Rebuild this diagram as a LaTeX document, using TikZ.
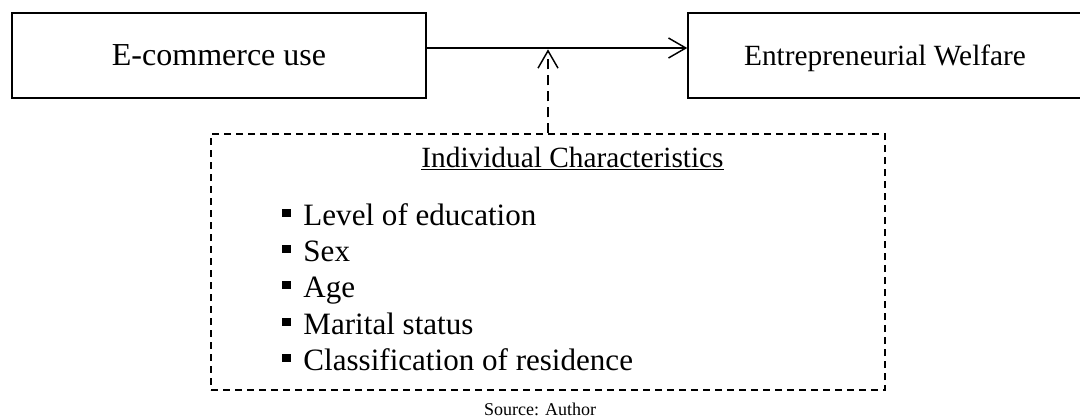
\documentclass[tikz,border=0pt]{standalone}
\usepackage{fontspec}
\setmainfont{Liberation Serif}
\usetikzlibrary{arrows.meta}

\begin{document}
\begin{tikzpicture}[x=0.75pt,y=-0.75pt,>={Straight Barb[length=13pt,width=15pt]},semithick]
      \tikzstyle{every box}=[draw=black,line width=1.1pt,text depth=0pt,inner sep=0pt]
      \tikzstyle{dashbox}=[draw=black,line width=0.9pt,dash pattern=on 5.5pt off 3.5pt]
      \tikzstyle{listitem}=[anchor=base west,inner sep=0pt,font=\fontsize{23.3pt}{28pt}\selectfont]
      \useasboundingbox (0,0) rectangle (1080,419);
      % boxes
      \node [every box,minimum width=310.5pt,minimum height=63.75pt,font=\fontsize{24pt}{29pt}\selectfont] (ecom) at (219,55.5) {E-commerce use};
      \node [every box,minimum width=295.5pt,minimum height=63.75pt,font=\fontsize{22pt}{26pt}\selectfont] (welf) at (885,55.5) {Entrepreneurial Welfare};
      \node [dashbox,minimum width=505.5pt,minimum height=192pt,inner sep=0pt] (chars) at (548,262) {};
      \coordinate (hit) at (548,48);
      % contents of the dashed box
      \node [anchor=base,inner sep=0pt,font=\fontsize{22pt}{26pt}\selectfont] (title) at (572.5,167) {\underline{Individual Characteristics}};
      \foreach \i/\y/\t in {1/225/Level of education,2/261/Sex,3/297/Age,4/334/Marital status,5/370/Classification of residence}
        \node [listitem] (item\i) at (282,\y) {\rule[6pt]{6.3pt}{6.3pt}\hspace{9.5pt}\t};
      \node [anchor=base,inner sep=0pt,font=\fontsize{13.5pt}{16pt}\selectfont] (source) at (540,415) {Source: Author};
      % arrows
      \draw [->,line width=1.1pt] (ecom.east |- hit) -- (welf.west |- hit);
      \draw [->,line width=1.1pt,dash pattern=on 8pt off 4pt] (chars.north) -- ([yshift=-1pt]hit);
  \end{tikzpicture}
\end{document}
